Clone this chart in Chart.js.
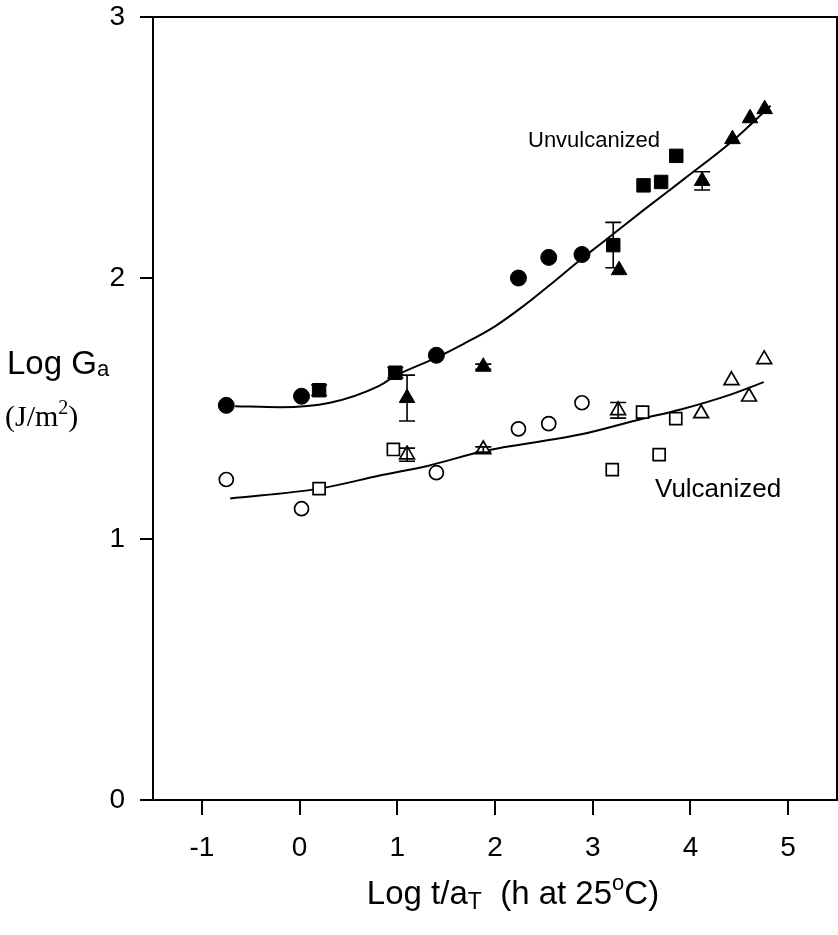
<!DOCTYPE html>
<html>
<head>
<meta charset="utf-8">
<script src="https://cdn.jsdelivr.net/npm/chart.js@4"></script>
<style>
  html, body { margin: 0; padding: 0; background: #fff; }
  #wrap { width: 838px; height: 935px; position: relative; }
</style>
</head>
<body>
<div id="wrap"><canvas id="chart"></canvas></div>
<script>
// x ticks / y ticks
const xTicks = [-1, 0, 1, 2, 3, 4, 5];
const yTicks = [0, 1, 2, 3];

// Unvulcanized (filled markers)
const unvCircleX = [-0.75, 0.02, 1.40, 2.24, 2.55, 2.89];
const unvCircleY = [1.512, 1.547, 1.704, 2.0, 2.079, 2.09];
const unvSquareX = [0.20, 0.98, 3.21, 3.52, 3.70, 3.855];
const unvSquareY = [1.570, 1.637, 2.126, 2.355, 2.368, 2.468];
const unvSquareErr = [0.02, 0.02, 0.087, 0, 0, 0];
const unvTriX = [1.10, 1.88, 3.27, 4.12, 4.43, 4.61, 4.76];
const unvTriY = [1.54, 1.66, 2.03, 2.372, 2.532, 2.612, 2.647];
const unvTriErr = [0.088, 0.01, 0, 0.035, 0, 0, 0];

// Vulcanized (open markers)
const vulCircleX = [-0.75, 0.02, 1.40, 2.24, 2.55, 2.89];
const vulCircleY = [1.228, 1.116, 1.254, 1.422, 1.442, 1.522];
const vulSquareX = [0.20, 0.96, 3.20, 3.51, 3.68, 3.85];
const vulSquareY = [1.193, 1.343, 1.266, 1.486, 1.323, 1.461];
const vulTriX = [1.10, 1.88, 3.26, 4.11, 4.42, 4.60, 4.755];
const vulTriY = [1.323, 1.343, 1.493, 1.481, 1.608, 1.545, 1.688];
const vulTriErr = [0.025, 0.01, 0.03, 0, 0, 0, 0];

// fitted curves
const fitUnvX = [-0.66, -0.2, 0.31, 0.82, 0.98, 1.40, 1.68, 2.0, 2.3, 2.6, 2.89, 3.08, 3.52, 3.93, 4.43, 4.82];
const fitUnvY = [1.509, 1.505, 1.522, 1.588, 1.625, 1.695, 1.748, 1.815, 1.895, 1.985, 2.075, 2.13, 2.26, 2.378, 2.525, 2.66];
const fitVulX = [-0.71, 0.20, 0.82, 1.32, 1.876, 2.87, 3.51, 3.9, 4.41, 4.75];
const fitVulY = [1.155, 1.193, 1.243, 1.281, 1.336, 1.40, 1.461, 1.496, 1.553, 1.601];

const sans = "'Liberation Sans', Arial, Helvetica, sans-serif";
const serif = "'Liberation Serif', 'Times New Roman', serif";

function pts(xs, ys, errs) {
  return xs.map((x, i) => ({ x: x, y: ys[i], err: errs ? errs[i] : 0 }));
}

function markerSet(label, xs, ys, errs, style, radius, filled) {
  return {
    label: label,
    type: 'scatter',
    data: pts(xs, ys, errs),
    pointStyle: style,
    pointRadius: radius,
    pointBackgroundColor: filled ? '#000' : '#fff',
    pointBorderColor: '#000',
    pointBorderWidth: filled ? 1 : 1.7,
    showLine: false,
    order: 1
  };
}

function curveSet(label, xs, ys) {
  return {
    label: label,
    type: 'line',
    data: pts(xs, ys),
    borderColor: '#000',
    borderWidth: 2,
    pointRadius: 0,
    fill: false,
    cubicInterpolationMode: 'monotone',
    order: 2
  };
}

// small helper for text with sub/superscripts
function drawRich(ctx, parts, x, y, align) {
  let total = 0;
  parts.forEach(p => { ctx.font = p.font; total += ctx.measureText(p.t).width; });
  let cx = align === 'center' ? x - total / 2 : x;
  parts.forEach(p => {
    ctx.font = p.font;
    ctx.fillText(p.t, cx, y + (p.dy || 0));
    cx += ctx.measureText(p.t).width;
  });
}

const decorations = {
  id: 'decorations',
  afterDatasetsDraw(chart) {
    const ctx = chart.ctx;
    const xs = chart.scales.x, ys = chart.scales.y;
    ctx.save();
    ctx.strokeStyle = '#000';
    ctx.lineWidth = 1.6;
    chart.data.datasets.forEach(ds => {
      ds.data.forEach(p => {
        if (!p.err) return;
        const px = xs.getPixelForValue(p.x);
        const top = ys.getPixelForValue(p.y + p.err);
        const bot = ys.getPixelForValue(p.y - p.err);
        ctx.beginPath();
        ctx.moveTo(px, top); ctx.lineTo(px, bot);
        ctx.moveTo(px - 8, top); ctx.lineTo(px + 8, top);
        ctx.moveTo(px - 8, bot); ctx.lineTo(px + 8, bot);
        ctx.stroke();
      });
    });
    ctx.restore();
  },
  afterDraw(chart) {
    const ctx = chart.ctx;
    const a = chart.chartArea;
    ctx.save();
    // top and right frame
    ctx.strokeStyle = '#000';
    ctx.lineWidth = 2;
    ctx.beginPath();
    ctx.moveTo(a.left - 13, a.top);
    ctx.lineTo(a.right, a.top);
    ctx.lineTo(a.right, a.bottom);
    ctx.stroke();

    ctx.fillStyle = '#000';
    ctx.textBaseline = 'alphabetic';
    ctx.textAlign = 'left';
    // series labels
    ctx.font = '22px ' + sans;
    ctx.fillText('Unvulcanized', 528, 147);
    ctx.font = '26px ' + sans;
    ctx.fillText('Vulcanized', 655, 497);

    // y axis title
    drawRich(ctx, [
      { t: 'Log G', font: '33px ' + sans },
      { t: 'a', font: '22px ' + sans, dy: 2 }
    ], 7, 374, 'left');
    drawRich(ctx, [
      { t: '(J/m', font: '30px ' + serif },
      { t: '2', font: '20px ' + serif, dy: -12 },
      { t: ')', font: '30px ' + serif }
    ], 5, 426, 'left');

    // x axis title
    drawRich(ctx, [
      { t: 'Log t/a', font: '33px ' + sans },
      { t: 'T', font: '23px ' + sans, dy: 5 },
      { t: '  (h at 25', font: '33px ' + sans },
      { t: 'o', font: '22px ' + sans, dy: -14 },
      { t: 'C)', font: '33px ' + sans }
    ], 513, 904, 'center');
    ctx.restore();
  }
};

const ctx = document.getElementById('chart').getContext('2d');
new Chart(ctx, {
  data: {
    datasets: [
      curveSet('Unvulcanized fit', fitUnvX, fitUnvY),
      curveSet('Vulcanized fit', fitVulX, fitVulY),
      markerSet('Unvulcanized circles', unvCircleX, unvCircleY, null, 'circle', 8, true),
      markerSet('Unvulcanized squares', unvSquareX, unvSquareY, unvSquareErr, 'rect', 9.5, true),
      markerSet('Unvulcanized triangles', unvTriX, unvTriY, unvTriErr, 'triangle', 9, true),
      markerSet('Vulcanized circles', vulCircleX, vulCircleY, null, 'circle', 7, false),
      markerSet('Vulcanized squares', vulSquareX, vulSquareY, null, 'rect', 8.5, false),
      markerSet('Vulcanized triangles', vulTriX, vulTriY, vulTriErr, 'triangle', 8.5, false)
    ]
  },
  options: {
    responsive: true,
    maintainAspectRatio: false,
    animation: false,
    layout: { autoPadding: false, padding: { top: 17, right: 1, left: 0, bottom: 0 } },
    plugins: {
      legend: { display: false },
      tooltip: { enabled: false }
    },
    scales: {
      x: {
        type: 'linear',
        min: -1.5,
        max: 5.5,
        afterFit: (scale) => {
          scale.height = 135;
          scale.paddingLeft = 0;
          scale.paddingRight = 0;
        },
        afterBuildTicks: (scale) => { scale.ticks = xTicks.map(v => ({ value: v })); },
        ticks: {
          color: '#000',
          font: { family: sans, size: 28 },
          padding: 16,
          maxRotation: 0
        },
        grid: { drawOnChartArea: false, drawTicks: true, tickLength: 15, color: '#000', lineWidth: 2 },
        border: { display: true, color: '#000', width: 2 }
      },
      y: {
        type: 'linear',
        min: 0,
        max: 3,
        afterFit: (scale) => {
          scale.width = 153;
          scale.paddingTop = 0;
          scale.paddingBottom = 0;
        },
        afterBuildTicks: (scale) => { scale.ticks = yTicks.map(v => ({ value: v })); },
        ticks: {
          color: '#000',
          font: { family: sans, size: 28 },
          padding: 15
        },
        grid: { drawOnChartArea: false, drawTicks: true, tickLength: 13, color: '#000', lineWidth: 2 },
        border: { display: true, color: '#000', width: 2 }
      }
    }
  },
  plugins: [decorations]
});
</script>
</body>
</html>
